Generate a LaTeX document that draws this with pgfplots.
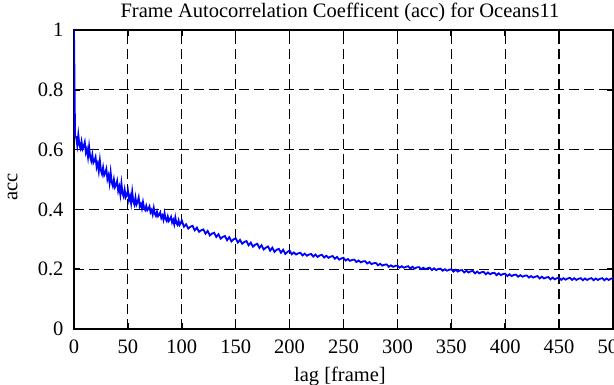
\documentclass[border=0pt]{standalone}
\usepackage{pgfplots}
\pgfplotsset{compat=1.18}
\usepackage{fontspec}
\setmainfont{Liberation Serif}
\begin{document}
\begin{tikzpicture}[x=1pt,y=1pt]
\begin{axis}[
  at={(74pt,56pt)}, anchor=south west,
  scale only axis, width=539pt, height=299pt,
  xmin=0, xmax=500, ymin=0, ymax=1,
  xtick={0,50,...,500}, ytick={0,0.2,...,1},
  /pgf/number format/assume math mode=true,
  font=\fontsize{20.5}{24}\selectfont,
  tick label style={font=\fontsize{20.5}{24}\selectfont},
  xticklabel style={yshift=-7pt},
  yticklabel style={xshift=-7pt},
  tick align=inside, major tick length=6pt,
  every tick/.style={black, line width=1.6pt},
  axis line style={line width=1.9pt},
  grid=major,
  grid style={black, line width=1.2pt, dash pattern=on 10pt off 5pt},
  title={Frame Autocorrelation Coefficent (acc) for Oceans11},
  title style={at={(axis description cs:0.4935,1.04)}, anchor=center},
  xlabel={lag [frame]},
  xlabel style={at={(axis description cs:0.4935,-0.16)}, anchor=center},
  ylabel={acc},
  ylabel style={at={(axis description cs:-0.114,0.475)}, anchor=center},
]
\addplot[color={rgb,255:red,0;green,0;blue,255}, line width=1.8pt] coordinates {
(0,1.0)(1,0.645)(2,0.642)(3,0.615)(4,0.65)(5,0.615)(6,0.604)(7,0.627)(8,0.602)(9,0.611)
(10,0.625)(11,0.59)(12,0.602)(13,0.575)(14,0.61)(15,0.575)(16,0.562)(17,0.583)(18,0.556)(19,0.563)
(20,0.575)(21,0.541)(22,0.554)(23,0.528)(24,0.564)(25,0.53)(26,0.518)(27,0.54)(28,0.514)(29,0.522)
(30,0.535)(31,0.501)(32,0.514)(33,0.488)(34,0.524)(35,0.49)(36,0.478)(37,0.50)(38,0.474)(39,0.482)
(40,0.495)(41,0.462)(42,0.476)(43,0.45)(44,0.487)(45,0.454)(46,0.443)(47,0.466)(48,0.441)(49,0.449)
(50,0.463)(51,0.431)(52,0.445)(53,0.421)(54,0.459)(55,0.427)(56,0.416)(57,0.44)(58,0.416)(59,0.425)
(60,0.44)(61,0.41)(62,0.418)(63,0.403)(64,0.425)(65,0.405)(66,0.398)(67,0.412)(68,0.397)(69,0.402)
(70,0.41)(71,0.39)(72,0.398)(73,0.383)(74,0.405)(75,0.385)(76,0.378)(77,0.392)(78,0.377)(79,0.382)
(80,0.39)(81,0.371)(82,0.379)(83,0.365)(84,0.387)(85,0.368)(86,0.361)(87,0.376)(88,0.361)(89,0.367)
(90,0.375)(91,0.356)(92,0.365)(93,0.35)(94,0.373)(95,0.354)(96,0.348)(97,0.363)(98,0.348)(99,0.354)
(100,0.363)(102,0.342)(104,0.350)(106,0.336)(108,0.342)(110,0.345)(112,0.330)(114,0.339)(116,0.325)(118,0.330)
(120,0.333)(122,0.319)(124,0.328)(126,0.313)(128,0.319)(130,0.322)(132,0.308)(134,0.317)(136,0.302)(138,0.308)
(140,0.311)(142,0.297)(144,0.307)(146,0.293)(148,0.300)(150,0.303)(152,0.289)(154,0.298)(156,0.285)(158,0.291)
(160,0.294)(162,0.280)(164,0.289)(166,0.275)(168,0.282)(170,0.285)(172,0.271)(174,0.280)(176,0.266)(178,0.272)
(180,0.276)(182,0.262)(184,0.272)(186,0.258)(188,0.265)(190,0.268)(192,0.255)(194,0.265)(196,0.251)(198,0.258)
(200,0.262)(202,0.250)(204,0.256)(206,0.249)(208,0.253)(210,0.255)(212,0.246)(214,0.252)(216,0.245)(218,0.249)
(220,0.251)(222,0.242)(224,0.249)(226,0.241)(228,0.246)(230,0.248)(232,0.239)(234,0.245)(236,0.238)(238,0.242)
(240,0.244)(242,0.235)(244,0.241)(246,0.232)(248,0.236)(250,0.238)(252,0.229)(254,0.234)(256,0.228)(258,0.231)
(260,0.232)(262,0.224)(264,0.229)(266,0.223)(268,0.226)(270,0.227)(272,0.219)(274,0.224)(276,0.217)(278,0.220)
(280,0.221)(282,0.213)(284,0.218)(286,0.212)(288,0.215)(290,0.216)(292,0.208)(294,0.213)(296,0.208)(298,0.211)
(300,0.212)(302,0.205)(304,0.210)(306,0.205)(308,0.208)(310,0.210)(312,0.202)(314,0.208)(316,0.202)(318,0.206)
(320,0.207)(322,0.200)(324,0.205)(326,0.200)(328,0.203)(330,0.205)(332,0.197)(334,0.203)(336,0.197)(338,0.201)
(340,0.202)(342,0.195)(344,0.200)(346,0.195)(348,0.198)(350,0.200)(352,0.192)(354,0.198)(356,0.192)(358,0.196)
(360,0.197)(362,0.189)(364,0.195)(366,0.189)(368,0.193)(370,0.194)(372,0.186)(374,0.192)(376,0.186)(378,0.190)
(380,0.191)(382,0.183)(384,0.189)(386,0.183)(388,0.187)(390,0.188)(392,0.180)(394,0.186)(396,0.180)(398,0.184)
(400,0.185)(402,0.177)(404,0.183)(406,0.177)(408,0.181)(410,0.182)(412,0.175)(414,0.180)(416,0.175)(418,0.178)
(420,0.179)(422,0.172)(424,0.177)(426,0.172)(428,0.175)(430,0.177)(432,0.169)(434,0.175)(436,0.169)(438,0.172)
(440,0.174)(442,0.166)(444,0.172)(446,0.166)(448,0.170)(450,0.171)(452,0.164)(454,0.170)(456,0.165)(458,0.169)
(460,0.171)(462,0.164)(464,0.170)(466,0.164)(468,0.168)(470,0.170)(472,0.163)(474,0.169)(476,0.164)(478,0.168)
(480,0.170)(482,0.163)(484,0.169)(486,0.164)(488,0.168)(490,0.170)(492,0.163)(494,0.169)(496,0.164)(498,0.168)
(500,0.170)
};
\end{axis}
\pgfresetboundingbox
\useasboundingbox (0,0) rectangle (614,385);
\end{tikzpicture}
\end{document}
